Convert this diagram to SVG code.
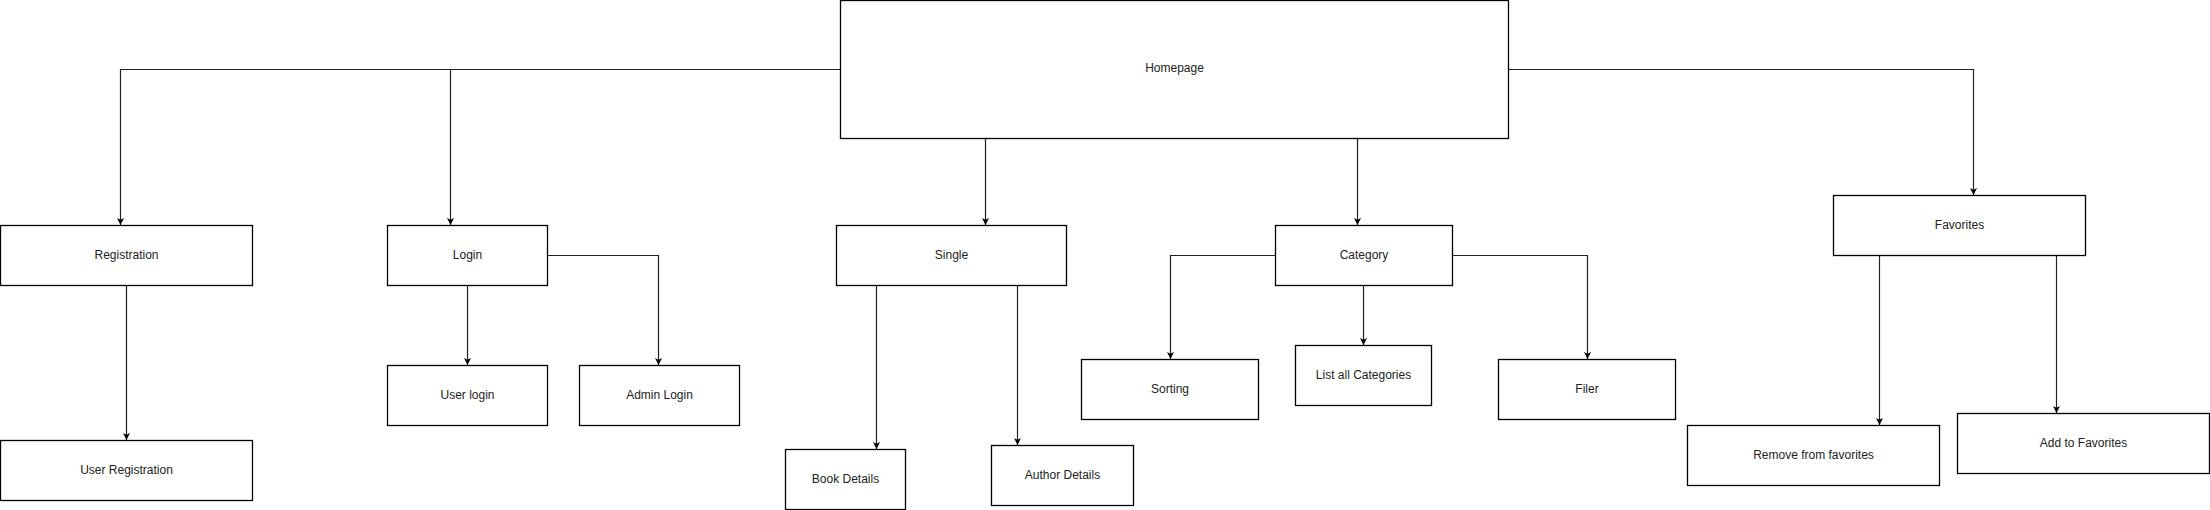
<svg xmlns="http://www.w3.org/2000/svg" width="2210" height="510" viewBox="0 0 2210 510">
<style>
.box{fill:#fff;stroke:#000;stroke-width:1.3}
.lbl{font-family:"Liberation Sans",Arial,sans-serif;font-size:12px;fill:#222;text-anchor:middle;dominant-baseline:central}
.edge{fill:none;stroke:#222;stroke-width:1.2}
</style>
<defs>
<marker id="arr" viewBox="-8 -4 9 8" refX="0" refY="0" markerWidth="9" markerHeight="8" markerUnits="userSpaceOnUse" orient="auto">
<path d="M-7,-3.5 L0,0 L-7,3.5 L-5.25,0 Z" fill="#000"/>
</marker>
</defs>
<rect width="2210" height="510" fill="#fff"/>
<g id="connectors">
<path class="edge" d="M840,69.5 H120.5 V225" marker-end="url(#arr)"/>
<path class="edge" d="M840,69.5 H450.5 V225" marker-end="url(#arr)"/>
<path class="edge" d="M985.5,138 V225" marker-end="url(#arr)"/>
<path class="edge" d="M1357.5,138 V225" marker-end="url(#arr)"/>
<path class="edge" d="M1509,69.5 H1973.5 V195" marker-end="url(#arr)"/>
<path class="edge" d="M126.5,285 V440" marker-end="url(#arr)"/>
<path class="edge" d="M467.5,285 V365" marker-end="url(#arr)"/>
<path class="edge" d="M547,255.5 H658.5 V365" marker-end="url(#arr)"/>
<path class="edge" d="M876.5,285 V449" marker-end="url(#arr)"/>
<path class="edge" d="M1017.5,285 V445" marker-end="url(#arr)"/>
<path class="edge" d="M1275,255.5 H1170.5 V359" marker-end="url(#arr)"/>
<path class="edge" d="M1363.5,285 V345" marker-end="url(#arr)"/>
<path class="edge" d="M1452,255.5 H1587.5 V359" marker-end="url(#arr)"/>
<path class="edge" d="M1879.5,255 V425" marker-end="url(#arr)"/>
<path class="edge" d="M2056.5,255 V413" marker-end="url(#arr)"/>
</g>
<g id="homepage"><rect class="box" x="840.5" y="0.5" width="668" height="138"/><text class="lbl" x="1174.5" y="68">Homepage</text></g>
<g id="registration"><rect class="box" x="0.5" y="225.5" width="252" height="60"/><text class="lbl" x="126.5" y="254.5">Registration</text></g>
<g id="user-registration"><rect class="box" x="0.5" y="440.5" width="252" height="60"/><text class="lbl" x="126.5" y="469.5">User Registration</text></g>
<g id="login"><rect class="box" x="387.5" y="225.5" width="160" height="60"/><text class="lbl" x="467.5" y="254.5">Login</text></g>
<g id="user-login"><rect class="box" x="387.5" y="365.5" width="160" height="60"/><text class="lbl" x="467.5" y="394.5">User login</text></g>
<g id="admin-login"><rect class="box" x="579.5" y="365.5" width="160" height="60"/><text class="lbl" x="659.5" y="394.5">Admin Login</text></g>
<g id="single"><rect class="box" x="836.5" y="225.5" width="230" height="60"/><text class="lbl" x="951.5" y="254.5">Single</text></g>
<g id="book-details"><rect class="box" x="785.5" y="449.5" width="120" height="60"/><text class="lbl" x="845.5" y="478.5">Book Details</text></g>
<g id="author-details"><rect class="box" x="991.5" y="445.5" width="142" height="60"/><text class="lbl" x="1062.5" y="474.5">Author Details</text></g>
<g id="category"><rect class="box" x="1275.5" y="225.5" width="177" height="60"/><text class="lbl" x="1364" y="254.5">Category</text></g>
<g id="sorting"><rect class="box" x="1081.5" y="359.5" width="177" height="60"/><text class="lbl" x="1170" y="388.5">Sorting</text></g>
<g id="list-all-categories"><rect class="box" x="1295.5" y="345.5" width="136" height="60"/><text class="lbl" x="1363.5" y="374.5">List all Categories</text></g>
<g id="filer"><rect class="box" x="1498.5" y="359.5" width="177" height="60"/><text class="lbl" x="1587" y="388.5">Filer</text></g>
<g id="favorites"><rect class="box" x="1833.5" y="195.5" width="252" height="60"/><text class="lbl" x="1959.5" y="224.5">Favorites</text></g>
<g id="remove-from-favorites"><rect class="box" x="1687.5" y="425.5" width="252" height="60"/><text class="lbl" x="1813.5" y="454.5">Remove from favorites</text></g>
<g id="add-to-favorites"><rect class="box" x="1957.5" y="413.5" width="252" height="60"/><text class="lbl" x="2083.5" y="442.5">Add to Favorites</text></g>
</svg>
